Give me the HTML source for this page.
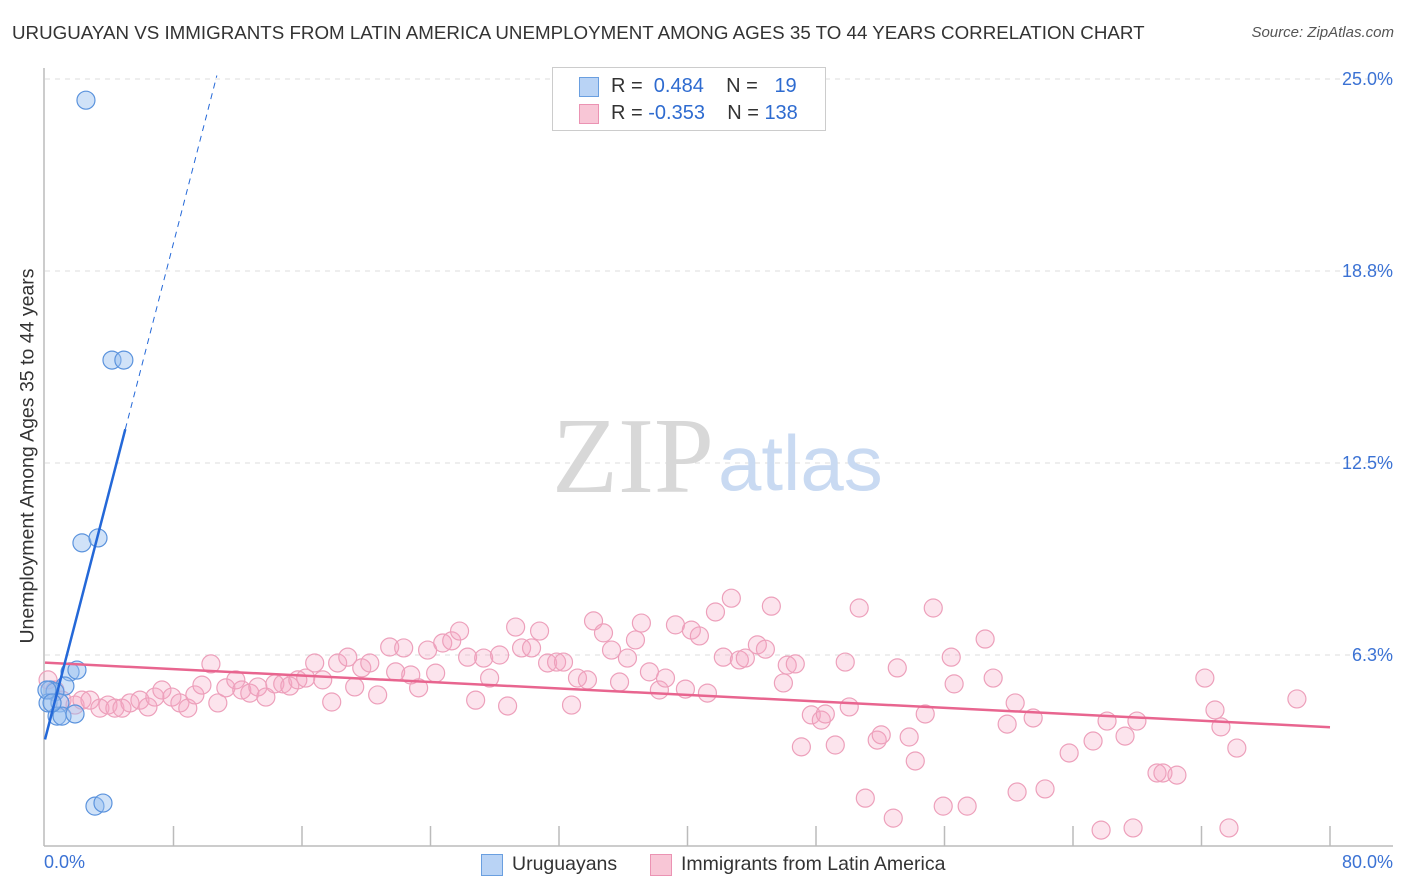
<!DOCTYPE html>
<html><head><meta charset="utf-8"><style>
body{margin:0;background:#fff;font-family:"Liberation Sans",sans-serif;}
#wrap{position:relative;width:1406px;height:892px;overflow:hidden;}
.t{position:absolute;white-space:nowrap;}
</style></head><body>
<div id="wrap">
<div class="t" style="left:12px;top:22px;font-size:18.75px;color:#333;">URUGUAYAN VS IMMIGRANTS FROM LATIN AMERICA UNEMPLOYMENT AMONG AGES 35 TO 44 YEARS CORRELATION CHART</div>
<div class="t" style="right:12px;top:24px;font-size:15px;color:#555;font-style:italic;">Source: ZipAtlas.com</div>
<svg id="chart" width="1406" height="892" style="position:absolute;left:0;top:0"></svg>
</div>
<script>
const blueX=[2.55,4.17,4.91,2.30,3.30,1.56,1.99,1.24,0.31,0.62,0.19,0.93,0.75,1.06,1.87,3.11,3.61,0.12,0.44];
const blueY=[24.31,15.85,15.85,9.90,10.06,5.70,5.76,5.24,5.11,5.05,4.69,4.69,4.26,4.26,4.33,1.33,1.43,5.11,4.69];
const pinkX=[0.19,0.62,1.06,1.87,2.30,2.80,3.42,3.92,4.35,4.79,5.29,5.91,6.41,6.84,7.28,7.90,8.40,8.89,9.33,9.77,10.33,10.76,11.26,11.88,12.25,12.75,13.25,13.75,14.31,14.80,15.24,15.74,16.23,16.79,17.29,17.85,18.22,18.85,19.28,19.72,20.22,20.71,21.46,21.83,22.33,22.77,23.26,23.82,24.32,24.76,25.32,25.81,26.31,26.81,27.31,27.68,28.30,28.80,29.30,29.67,30.29,30.79,31.29,31.85,32.28,32.78,33.15,33.77,34.15,34.77,35.27,35.77,36.26,36.76,37.13,37.63,38.25,38.63,39.25,39.87,40.24,40.74,41.24,41.74,42.23,42.73,43.23,43.60,44.35,44.85,45.22,45.97,46.21,46.71,47.09,47.71,48.33,48.58,49.20,49.82,50.07,50.69,51.07,51.81,52.06,52.81,53.06,53.80,54.18,54.80,55.30,55.92,56.42,56.60,57.41,58.53,59.03,59.90,60.40,60.52,61.52,62.26,63.76,65.25,65.75,66.12,67.24,67.74,67.98,69.23,69.60,70.47,72.21,72.84,73.21,73.71,74.20,77.94];
const pinkY=[5.44,5.11,4.78,4.62,4.78,4.78,4.52,4.62,4.52,4.52,4.69,4.78,4.56,4.88,5.11,4.88,4.69,4.52,4.95,5.27,5.96,4.69,5.18,5.44,5.11,5.01,5.21,4.88,5.31,5.31,5.24,5.44,5.50,5.99,5.44,4.72,5.99,6.18,5.21,5.83,5.99,4.95,6.51,5.70,6.48,5.60,5.18,6.41,5.66,6.64,6.71,7.03,6.18,4.78,6.15,5.50,6.25,4.59,7.16,6.48,6.48,7.03,5.99,6.02,6.02,4.62,5.50,5.44,7.36,6.97,6.41,5.37,6.15,6.74,7.29,5.70,5.11,5.50,7.23,5.14,7.06,6.87,5.01,7.65,6.18,8.10,6.09,6.15,6.58,6.44,7.84,5.34,5.92,5.96,3.26,4.30,4.13,4.33,3.32,6.02,4.56,7.78,1.59,3.48,3.65,0.94,5.83,3.58,2.80,4.33,7.78,1.33,6.18,5.31,1.33,6.77,5.50,4.00,4.69,1.79,4.20,1.89,3.06,3.45,0.55,4.10,3.61,0.62,4.10,2.41,2.41,2.34,5.50,4.46,3.91,0.62,3.22,4.82];
const yTicks=[6.25,12.5,18.75,25];
const yTickLabels=["6.3%","12.5%","18.8%","25.0%"];
const blueLine=[3.5,2.02]; // intercept, slope
const pinkLine=[6.0,-0.02625];

const NS="http://www.w3.org/2000/svg";
const svg=document.getElementById('chart');
const X0=45,X1=1330,Y0=847;
function xs(v){return X0+v*(X1-X0)/80;}
function ys(v){return Y0-v*30.72;}
function mk(tag,attrs,parent){const e=document.createElementNS(NS,tag);for(const k in attrs)e.setAttribute(k,attrs[k]);(parent||svg).appendChild(e);return e;}

yTicks.forEach((t,i)=>{
  const g=mk('line',{x1:45,x2:1393,y1:ys(t),y2:ys(t),stroke:'#ddd','stroke-dasharray':'5,5'});
  
  
  const tx=mk('text',{x:1393,y:ys(t)+6,'text-anchor':'end','font-size':18,fill:'#3b72d4','font-family':'Liberation Sans'});
  tx.textContent=yTickLabels[i];
  
  
});
const ax=mk('line',{x1:44,x2:44,y1:68,y2:846,stroke:'#bbb','stroke-width':1.5});


const bx=mk('line',{x1:44,x2:1393,y1:846,y2:846,stroke:'#bbb','stroke-width':1.5});


for(let i=1;i<=10;i++){
  const tk=mk('line',{x1:xs(i*8),x2:xs(i*8),y1:826,y2:846,stroke:'#bbb','stroke-width':1.5});
  
  
}
const wm=mk('text',{x:552,y:492,'font-size':108,fill:'#d8d8d8','font-family':'Liberation Serif'});
wm.textContent='ZIP';


const wm2=mk('text',{x:718,y:490,'font-size':78,fill:'#c9daf2','font-family':'Liberation Sans'});
wm2.textContent='atlas';



pinkX.forEach((v,i)=>{
  const c=mk('circle',{cx:xs(v),cy:ys(pinkY[i]),r:9,fill:'rgba(244,165,195,0.3)',stroke:'#eda0bb','stroke-width':1.2});
  
  
});
blueX.forEach((v,i)=>{
  const c=mk('circle',{cx:xs(v),cy:ys(blueY[i]),r:9,fill:'rgba(150,190,240,0.45)',stroke:'#5b93dd','stroke-width':1.2});
  
  
});
const pl=mk('line',{x1:xs(0),y1:ys(pinkLine[0]),x2:xs(80),y2:ys(pinkLine[0]+pinkLine[1]*80),stroke:'#e8658f','stroke-width':2.5});


const bl=mk('line',{x1:xs(0),y1:ys(blueLine[0]),x2:xs(5),y2:ys(blueLine[0]+blueLine[1]*5),stroke:'#2468d8','stroke-width':2.5});


const bd=mk('line',{x1:xs(5),y1:ys(blueLine[0]+blueLine[1]*5),x2:xs(10.7),y2:ys(blueLine[0]+blueLine[1]*10.7),stroke:'#2468d8','stroke-width':1,'stroke-dasharray':'6,5'});


</script>
<div class="t" style="left:28px;top:456px;font-size:19.5px;color:#333;transform:translate(-50%,-50%) rotate(-90deg);">Unemployment Among Ages 35 to 44 years</div>
<div class="t" style="left:44px;top:852px;font-size:18px;color:#3b72d4;">0.0%</div>
<div class="t" style="right:13px;top:852px;font-size:18px;color:#3b72d4;">80.0%</div>
<div style="position:absolute;left:552px;top:67px;width:272px;height:62px;border:1px solid #ccc;background:#fff;font-size:20px;">
  <div style="position:absolute;left:26px;top:9px;width:18px;height:18px;background:#b9d3f5;border:1px solid #6a9fe0;"></div>
  <div class="t" style="left:58px;top:7px;color:#333;">R = <span style="color:#2e6bd0">&nbsp;0.484</span>&nbsp;&nbsp;&nbsp; N = &nbsp;&nbsp;<span style="color:#2e6bd0">19</span></div>
  <div style="position:absolute;left:26px;top:36px;width:18px;height:18px;background:#f8c6d6;border:1px solid #eb93b3;"></div>
  <div class="t" style="left:58px;top:34px;color:#333;">R = <span style="color:#2e6bd0">-0.353</span>&nbsp;&nbsp;&nbsp; N = <span style="color:#2e6bd0">138</span></div>
</div>
<div style="position:absolute;left:481px;top:852px;font-size:19.5px;color:#333;">
  <div style="position:absolute;left:0;top:2px;width:20px;height:20px;background:#b9d3f5;border:1px solid #6a9fe0;"></div>
  <div class="t" style="left:31px;top:1px;">Uruguayans</div>
  <div style="position:absolute;left:169px;top:2px;width:20px;height:20px;background:#f8c6d6;border:1px solid #eb93b3;"></div>
  <div class="t" style="left:200px;top:1px;">Immigrants from Latin America</div>
</div>
</body></html>
